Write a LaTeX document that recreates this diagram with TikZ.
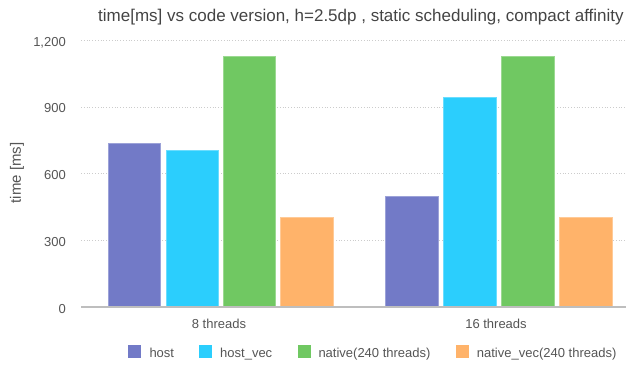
\documentclass[tikz,border=0pt]{standalone}
\usepackage{fontspec}
\setmainfont{Liberation Sans}
\newlength{\du}
\setlength{\du}{1pt}
\definecolor{hostcolor}{RGB}{114,122,199}
\definecolor{hostveccolor}{RGB}{43,206,253}
\definecolor{nativecolor}{RGB}{112,200,98}
\definecolor{nativeveccolor}{RGB}{255,179,106}
\definecolor{gridcolor}{RGB}{204,204,204}
\definecolor{axiscolor}{RGB}{190,190,190}
\definecolor{labelcolor}{RGB}{85,85,85}
\definecolor{titlecolor}{RGB}{68,68,68}
\tikzset{
  gridline/.style={gridcolor,line width=0.8\du,dotted},
  axisline/.style={axiscolor,line width=1.5\du},
  hostbar/.style={fill=hostcolor,draw=hostcolor!70!white,line width=0.6\du},
  hostvecbar/.style={fill=hostveccolor,draw=hostveccolor!70!white,line width=0.6\du},
  nativebar/.style={fill=nativecolor,draw=nativecolor!70!white,line width=0.6\du},
  nativevecbar/.style={fill=nativeveccolor,draw=nativeveccolor!70!white,line width=0.6\du},
  ticklabel/.style={anchor=base east,inner sep=0pt,text=labelcolor,font=\fontsize{13}{13}\selectfont},
  catlabel/.style={anchor=base,inner sep=0pt,text=labelcolor,font=\fontsize{13}{13}\selectfont},
  legendlabel/.style={anchor=base west,inner sep=0pt,text=labelcolor,font=\fontsize{13}{13}\selectfont},
}

\begin{document}
\begin{tikzpicture}
\pgftransformxscale{1.000000}
\pgftransformyscale{-1.000000}
\useasboundingbox (0\du,0\du) rectangle (626\du,365\du);
% grid
\draw[gridline] (81\du,40.2\du)--(626\du,40.2\du);
\draw[gridline] (81\du,106.9\du)--(626\du,106.9\du);
\draw[gridline] (81\du,173.6\du)--(626\du,173.6\du);
\draw[gridline] (81\du,240.3\du)--(626\du,240.3\du);
% 8 threads
\draw[hostbar] (108.3\du,307\du) rectangle (160.3\du,143\du);
\draw[hostvecbar] (166.0\du,307\du) rectangle (218.3\du,150\du);
\draw[nativebar] (223.0\du,307\du) rectangle (275.3\du,56\du);
\draw[nativevecbar] (280.7\du,307\du) rectangle (333.0\du,217.7\du);
% 16 threads
\draw[hostbar] (385.7\du,307\du) rectangle (438.3\du,196\du);
\draw[hostvecbar] (443.7\du,307\du) rectangle (496.0\du,97.7\du);
\draw[nativebar] (501.7\du,307\du) rectangle (554.0\du,56\du);
\draw[nativevecbar] (559.7\du,307\du) rectangle (612.0\du,217.7\du);
% axis
\draw[axisline] (81\du,307\du)--(626\du,307\du);
% setfont left to latex
\node[anchor=base west,inner sep=0pt,text=titlecolor,font=\fontsize{17}{17}\selectfont] (title) at (98\du,21\du){time[ms] vs code version, h=2.5dp , static scheduling, compact affinity};
\node[ticklabel] (t1200) at (66\du,46\du){1,200};
\node[ticklabel] (t900) at (66\du,112.5\du){900};
\node[ticklabel] (t600) at (66\du,179.2\du){600};
\node[ticklabel] (t300) at (66\du,246\du){300};
\node[ticklabel] (t0) at (66\du,313\du){0};
\node[rotate=90,inner sep=0pt,text=labelcolor,font=\fontsize{15}{15}\selectfont] (ytitle) at (17\du,173\du){time [ms]};
\node[catlabel] (c8) at (219\du,328\du){8 threads};
\node[catlabel] (c16) at (496\du,328\du){16 threads};
% legend
\fill[hostcolor] (128.3\du,345\du) rectangle (141.3\du,358\du);
\node[legendlabel] (lhost) at (149.3\du,357.5\du){host};
\fill[hostveccolor] (198.7\du,345\du) rectangle (211.7\du,358\du);
\node[legendlabel] (lhostvec) at (220\du,357.5\du){host\_vec};
\fill[nativecolor] (297.7\du,345\du) rectangle (310.7\du,358\du);
\node[legendlabel] (lnative) at (318.3\du,357.5\du){native(240 threads)};
\fill[nativeveccolor] (455.7\du,345\du) rectangle (468.7\du,358\du);
\node[legendlabel] (lnativevec) at (476.7\du,357.5\du){native\_vec(240 threads)};
\end{tikzpicture}
\end{document}
